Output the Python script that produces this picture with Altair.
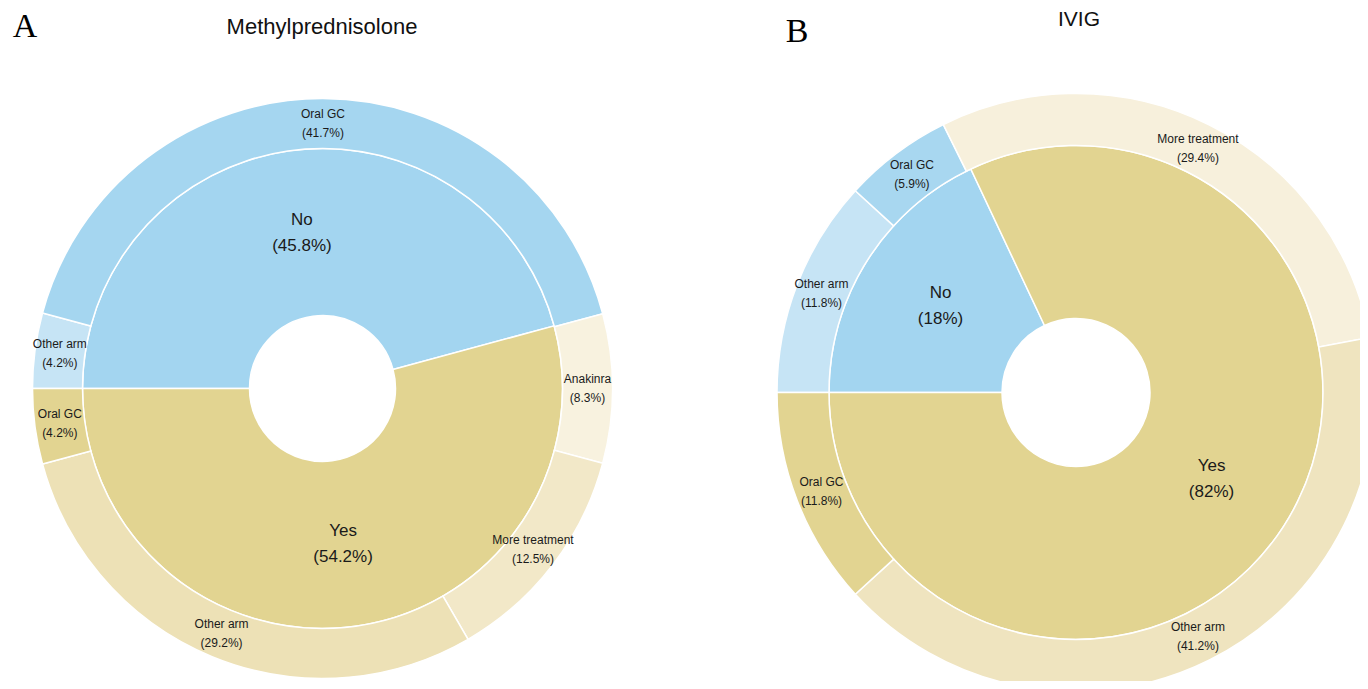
import math
import pandas as pd
import altair as alt

# ---------------- data ----------------
# Panel A: Methylprednisolone
a_inner_cat = ["No", "Yes"]
a_inner_val = [45.8, 54.2]
a_outer_parent = ["No", "No", "Yes", "Yes", "Yes", "Yes"]
a_outer_cat = ["Other arm", "Oral GC", "Anakinra", "More treatment", "Other arm", "Oral GC"]
a_outer_val = [4.2, 41.7, 8.3, 12.5, 29.2, 4.2]

# Panel B: IVIG
b_inner_cat = ["No", "Yes"]
b_inner_val = [18, 82]
b_outer_parent = ["No", "No", "Yes", "Yes", "Yes"]
b_outer_cat = ["Other arm", "Oral GC", "More treatment", "Other arm", "Oral GC"]
b_outer_val = [11.8, 5.9, 29.4, 41.2, 11.8]

# ---------------- styles ----------------
color_map = {
    "A|No": "#a3d5f0", "A|Yes": "#e2d491",
    "A|No|Other arm": "#c6e4f5", "A|No|Oral GC": "#a5d6f0",
    "A|Yes|Anakinra": "#f8f2df", "A|Yes|More treatment": "#f2e8c8",
    "A|Yes|Other arm": "#ede1b6", "A|Yes|Oral GC": "#e2d491",
    "B|No": "#a3d5f0", "B|Yes": "#e2d491",
    "B|No|Other arm": "#c6e4f5", "B|No|Oral GC": "#a8d7f0",
    "B|Yes|More treatment": "#f7f0dc", "B|Yes|Other arm": "#efe4bf",
    "B|Yes|Oral GC": "#e2d491",
}
color_scale = alt.Scale(domain=list(color_map.keys()), range=list(color_map.values()))
FONT = "Liberation Sans"


def fmt(v):
    return f"{v:g}"


def theta_enc():
    return alt.Theta("value:Q", stack=True,
                     scale=alt.Scale(range=[-math.pi / 2, 3 * math.pi / 2]))


def donut(panel, cx, cy, r0, r1, r2, icat, ival, oparent, ocat, oval):
    inner = pd.DataFrame({
        "idx": list(range(len(icat))),
        "value": ival,
        "key": [f"{panel}|{c}" for c in icat],
        "label": [f"{c}\n({fmt(v)}%)" for c, v in zip(icat, ival)],
    })
    outer = pd.DataFrame({
        "idx": list(range(len(ocat))),
        "value": oval,
        "key": [f"{panel}|{p}|{c}" for p, c in zip(oparent, ocat)],
        "label": [f"{c}\n({fmt(v)}%)" for c, v in zip(ocat, oval)],
    })
    layers = []
    for df, ra, rb, fs, lh in [(inner, r0, r1, 17, 26), (outer, r1, r2, 12, 19)]:
        arc = alt.Chart(df).mark_arc(
            innerRadius=ra, outerRadius=rb, stroke="white", strokeWidth=1.5
        ).encode(
            theta=theta_enc(),
            order=alt.Order("idx:Q", sort="ascending"),
            color=alt.Color("key:N", scale=color_scale, legend=None),
            x=alt.value(cx), y=alt.value(cy),
        )
        txt = alt.Chart(df).mark_text(
            radius=(ra + rb) / 2, fontSize=fs, font=FONT, color="#1a1a1a",
            lineBreak="\n", lineHeight=lh, align="center", baseline="middle",
            dy=-lh / 2,
        ).encode(
            theta=theta_enc(),
            order=alt.Order("idx:Q", sort="ascending"),
            text="label:N",
            x=alt.value(cx), y=alt.value(cy),
        )
        layers += [arc, txt]
    return layers


def label(text, x, y, size, font, color="#111111"):
    return alt.Chart(pd.DataFrame({"t": [text]})).mark_text(
        fontSize=size, font=font, color=color, align="center", baseline="middle"
    ).encode(text="t:N", x=alt.value(x), y=alt.value(y))


M = 8  # page margin
layers = []
layers += donut("A", 322.5 - M, 388.5 - M, 73, 240, 290,
                a_inner_cat, a_inner_val, a_outer_parent, a_outer_cat, a_outer_val)
layers += donut("B", 1076 - M, 392.5 - M, 74, 247, 299,
                b_inner_cat, b_inner_val, b_outer_parent, b_outer_cat, b_outer_val)
layers += [
    label("Methylprednisolone", 322 - M, 27 - M, 22, FONT),
    label("IVIG", 1079 - M, 20 - M, 21, FONT),
    label("A", 25 - M, 27 - M, 34, "Liberation Serif", "#000000"),
    label("B", 797 - M, 32 - M, 34, "Liberation Serif", "#000000"),
]

chart = alt.layer(*layers).resolve_scale(theta="independent").properties(
    width=1352, height=673, padding=0, autosize="none"
).configure_view(stroke=None)

chart.save("out.html", embed_options={"renderer": "svg", "actions": False})
